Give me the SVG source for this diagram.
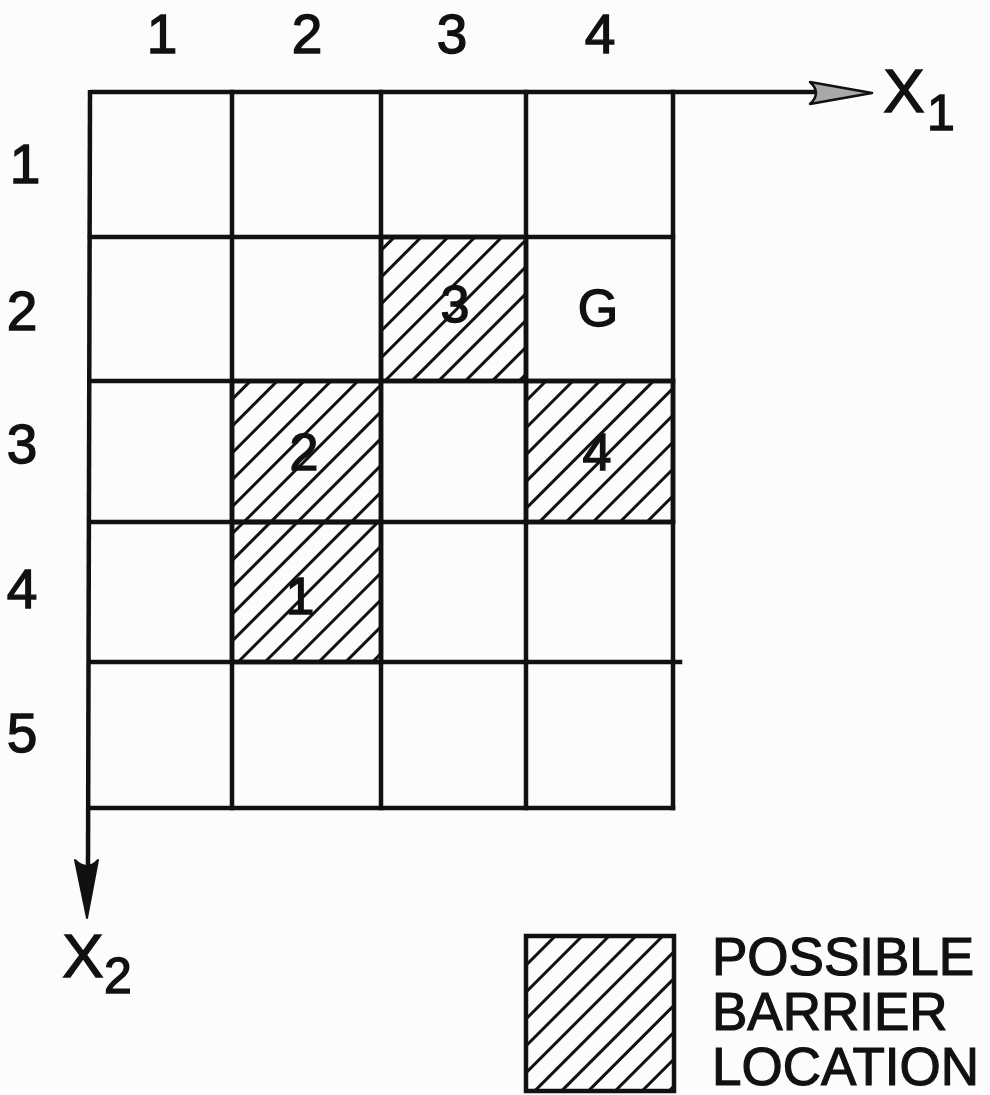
<svg xmlns="http://www.w3.org/2000/svg" width="990" height="1095" viewBox="0 0 990 1095">
<style>
.lbl{font-family:"Liberation Sans",Arial,sans-serif;font-size:55px;fill:#111;stroke:#111;stroke-width:1.4;text-anchor:middle}
.cell{font-family:"Liberation Sans",Arial,sans-serif;font-size:52px;fill:#111;stroke:#111;stroke-width:1.4;text-anchor:middle}
.leg{font-family:"Liberation Sans",Arial,sans-serif;font-size:53px;fill:#111;stroke:#111;stroke-width:1.2}
.grid{stroke:#111;stroke-width:4.5;fill:none;stroke-linecap:square}
.hatch{fill:url(#hatch);stroke:#111;stroke-width:4.5}
</style>
<defs>
<pattern id="hatch" patternUnits="userSpaceOnUse" width="19" height="19" patternTransform="rotate(45)">
<line x1="9.5" y1="-1" x2="9.5" y2="20" stroke="#111" stroke-width="3"/>
</pattern>
</defs>
<rect width="990" height="1095" fill="#fcfcfc"/>
<g id="barrier-cells">
<rect id="cell-3" class="hatch" x="381" y="237" width="145" height="144"/>
<rect id="cell-2" class="hatch" x="232" y="381" width="149" height="141"/>
<rect id="cell-4" class="hatch" x="526" y="381" width="147" height="141"/>
<rect id="cell-1" class="hatch" x="232" y="522" width="149" height="140"/>
</g>
<g id="grid" class="grid">
<line x1="232" y1="92" x2="232" y2="808"/>
<line x1="381" y1="92" x2="381" y2="808"/>
<line x1="526" y1="92" x2="526" y2="808"/>
<line x1="673" y1="92" x2="673" y2="808"/>
<line x1="90" y1="237" x2="673" y2="237"/>
<line x1="90" y1="381" x2="673" y2="381"/>
<line x1="90" y1="522" x2="673" y2="522"/>
<line x1="90" y1="662" x2="680" y2="662"/>
<line x1="89" y1="808" x2="673" y2="808"/>
</g>
<g id="connectors">
<line x1="90" y1="92" x2="818" y2="92" stroke="#111" stroke-width="4.5"/>
<path d="M872,93 L810,82 Q822,93 810,104 Z" fill="#a8a8a8" stroke="#111" stroke-width="2.5" stroke-linejoin="round"/>
<line x1="90" y1="90" x2="88" y2="870" stroke="#111" stroke-width="4.5"/>
<path d="M87,918 L75,860 Q87,872 98,860 Z" fill="#111" stroke="#111" stroke-width="2" stroke-linejoin="round"/>
</g>
<g id="column-labels">
<text class="lbl" x="162" y="53">1</text>
<text class="lbl" x="307" y="53">2</text>
<text class="lbl" x="452" y="53">3</text>
<text class="lbl" x="600" y="53">4</text>
</g>
<g id="row-labels">
<text class="lbl" x="25" y="183">1</text>
<text class="lbl" x="22" y="330">2</text>
<text class="lbl" x="22" y="463">3</text>
<text class="lbl" x="22" y="608">4</text>
<text class="lbl" x="22" y="752">5</text>
</g>
<g id="cell-labels">
<text class="cell" x="455" y="322">3</text>
<text class="cell" x="598" y="326">G</text>
<text class="cell" x="304" y="470">2</text>
<text class="cell" x="597" y="470">4</text>
<text class="cell" x="300" y="614">1</text>
</g>
<g id="axis-labels">
<text class="lbl" x="904" y="112" style="font-size:62px">X</text>
<text class="lbl" x="941" y="130" style="font-size:50px">1</text>
<text class="lbl" x="83" y="977" style="font-size:62px">X</text>
<text class="lbl" x="118" y="993" style="font-size:50px">2</text>
</g>
<g id="legend">
<rect class="hatch" x="526" y="936" width="148" height="155"/>
<text class="leg" x="712" y="975">POSSIBLE</text>
<text class="leg" x="712" y="1030">BARRIER</text>
<text class="leg" x="712" y="1085">LOCATION</text>
</g>
</svg>
